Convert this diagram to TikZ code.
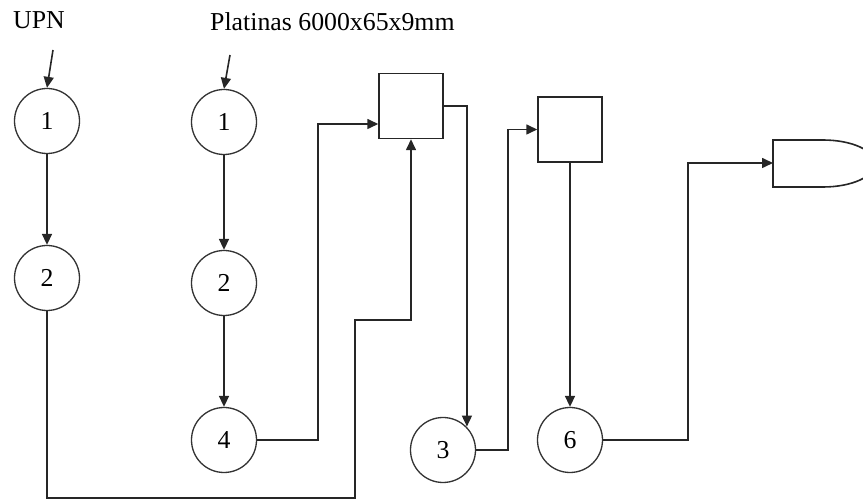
\documentclass[tikz,border=0pt]{standalone}
\usepackage{fontspec}
\setmainfont{Liberation Serif}
\usetikzlibrary{arrows.meta}
\begin{document}
\begin{tikzpicture}[x=1pt,y=-1pt,
  every node/.style={font=\fontsize{25.8}{30}\selectfont},
  proc/.style={draw=black!80, line width=1.3pt, circle, minimum size=65pt, inner sep=0pt},
  boxnode/.style={draw=black!85, line width=1.5pt, rectangle, minimum width=64pt, minimum height=65pt, inner sep=0pt},
  flow/.style={draw=black!85, line width=1.6pt},
  arr/.style={flow, -{Triangle[length=11pt,width=10pt]}}]
\useasboundingbox (0,0) rectangle (863,502);
\clip (0,0) rectangle (863,502);
% labels
\node[anchor=base west, inner sep=0pt] (lupn) at (13,29) {UPN};
\node[anchor=base west, inner sep=0pt] (lpla) at (210,31) {Platinas 6000x65x9mm};
% circles
\node[proc] (a1) at (47,121) {1};
\node[proc] (a2) at (47,278) {2};
\node[proc] (b1) at (224,122) {1};
\node[proc] (b2) at (224,283) {2};
\node[proc] (b4) at (224,440) {4};
\node[proc] (c3) at (443,450) {3};
\node[proc] (c6) at (570,440) {6};
% squares
\node[boxnode] (s1) at (411,106) {};
\node[boxnode] (s2) at (570,129.5) {};
% storage
\draw[flow] (823,140) -- (773,140) -- (773,187) -- (823,187)
  arc[start angle=90, end angle=-90, x radius=52, y radius=23.5];
\coordinate (stw) at (773,163);
% inputs
\coordinate (i1) at (53,50);
\coordinate (i2) at (230,55);
\draw[arr] (i1) -- (a1.north);
\draw[arr] (i2) -- (b1.north);
% flows
\draw[arr] (a1.south) -- (a2.north);
\draw[arr] (b1.south) -- (b2.north);
\draw[arr] (b2.south) -- (b4.north);
\draw[arr] (b4.east) -- ++(61,0) |- ([yshift=-18pt]s1.west);
\coordinate (k1) at (355,320);
\draw[arr] (a2.south) |- (355,498) -- (k1) -| (s1.south);
\draw[arr] (s1.east) -| ([xshift=0.5pt]c3.45);
\draw[arr] (c3.east) -- ++(32,0) |- (s2.west);
\draw[arr] (s2.south) -- (c6.north);
\draw[arr] (c6.east) -- ++(85,0) |- (stw);
\end{tikzpicture}
\end{document}
